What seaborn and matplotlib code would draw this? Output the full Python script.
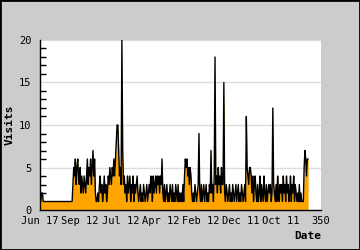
import numpy as np
import pandas as pd
import matplotlib
matplotlib.use("Agg")
import matplotlib.pyplot as plt
import seaborn as sns
from matplotlib.ticker import MultipleLocator, FixedLocator
from matplotlib.patches import Rectangle

visits = [
    1, 1, 2, 2, 1, 1, 1, 1, 1, 1,
    1, 1, 1, 1, 1, 1, 1, 1, 1, 1,
    1, 1, 1, 1, 1, 1, 1, 1, 1, 1,
    1, 1, 1, 1, 1, 1, 1, 1, 1, 1,
    1, 3, 5, 4, 6, 3, 5, 6, 4, 3,
    5, 2, 4, 3, 2, 4, 3, 2, 4, 6,
    3, 5, 4, 6, 3, 5, 7, 4, 6, 2,
    1, 1, 2, 1, 3, 4, 2, 3, 1, 2,
    4, 2, 3, 1, 2, 4, 3, 5, 4, 3,
    5, 4, 6, 4, 6, 8, 10, 10, 7, 4,
    5, 3, 20, 7, 3, 4, 2, 3, 1, 4,
    2, 3, 4, 1, 3, 2, 4, 1, 3, 2,
    3, 4, 2, 1, 2, 3, 1, 2, 1, 3,
    2, 1, 2, 3, 1, 2, 3, 2, 4, 3,
    1, 4, 2, 3, 4, 2, 4, 3, 4, 2,
    4, 3, 6, 2, 1, 3, 1, 2, 3, 1,
    2, 1, 3, 2, 1, 3, 1, 2, 1, 3,
    2, 1, 3, 1, 2, 1, 2, 1, 3, 1,
    4, 6, 5, 6, 4, 5, 3, 5, 4, 2,
    1, 2, 1, 3, 2, 1, 2, 3, 9, 2,
    1, 3, 1, 2, 3, 1, 2, 3, 1, 2,
    1, 3, 2, 7, 2, 3, 1, 4, 18, 3,
    4, 2, 5, 3, 4, 2, 5, 3, 3, 15,
    2, 1, 3, 2, 1, 2, 3, 1, 2, 1,
    3, 2, 1, 2, 3, 1, 2, 3, 1, 2,
    1, 3, 2, 1, 2, 3, 1, 11, 5, 4,
    3, 5, 5, 4, 2, 4, 1, 3, 4, 2,
    1, 3, 1, 2, 4, 1, 3, 2, 1, 4,
    2, 1, 3, 1, 2, 3, 2, 3, 1, 2,
    12, 3, 2, 1, 3, 1, 4, 2, 1, 3,
    2, 3, 1, 4, 2, 3, 1, 4, 2, 3,
    1, 2, 4, 1, 3, 2, 4, 1, 3, 2,
    1, 2, 1, 3, 1, 2, 1, 1, 1, 5,
    7, 6, 4, 6, 6,
]
x_tick_positions = [0, 50, 100, 150, 200, 250, 300, 350]
x_tick_labels = ["Jun 17", "Sep 12", "Jul 12", "Apr 12", "Feb 12", "Dec 11", "Oct 11", "350"]
y_ticks = [0, 5, 10, 15, 20]

df = pd.DataFrame({"day": np.arange(len(visits)), "visits": visits})

sns.set_theme(style="white")
plt.rcParams['font.family'] = ['DejaVu Sans Mono']

fig = plt.figure(figsize=(3.6, 2.5), dpi=100)
fig.patch.set_facecolor('#cccccc')
ax = fig.add_axes([40/360, 40/250, 281/360, 170/250])
ax.set_facecolor('white')

ax.fill_between(df["day"], df["visits"], color='#ffa500', lw=0, zorder=2)
sns.lineplot(data=df, x="day", y="visits", color="black", lw=1.0, ax=ax, zorder=3)

ax.set_xlim(0, 350)
ax.set_ylim(0, 20)
ax.xaxis.set_major_locator(FixedLocator(x_tick_positions))
ax.set_xticklabels(x_tick_labels)
ax.set_yticks(y_ticks)
ax.yaxis.set_minor_locator(MultipleLocator(1))

ax.yaxis.grid(True, which='major', color='#dddddd', lw=1)
ax.set_axisbelow(True)
for s in ['top', 'right']:
    ax.spines[s].set_visible(False)
for s in ['left', 'bottom']:
    ax.spines[s].set_color('black')
    ax.spines[s].set_linewidth(1)

ax.tick_params(axis='both', which='both', direction='in', color='black',
               labelsize=7.5, labelcolor='black', width=1)
ax.tick_params(axis='y', which='major', length=4, pad=6)
ax.tick_params(axis='y', which='minor', length=4, left=True)
ax.tick_params(axis='x', which='major', length=4, pad=4)

ax.set_ylabel("Visits", fontweight='bold', fontsize=8, color='black', labelpad=3)
ax.set_xlabel("Date", fontweight='bold', fontsize=8, color='black', loc='right', labelpad=4)

fig.patches.append(Rectangle((0, 0), 1, 1, transform=fig.transFigure, fill=False,
                             edgecolor='black', lw=2, zorder=10))

fig.savefig("out.png", dpi=100, facecolor='#cccccc')
